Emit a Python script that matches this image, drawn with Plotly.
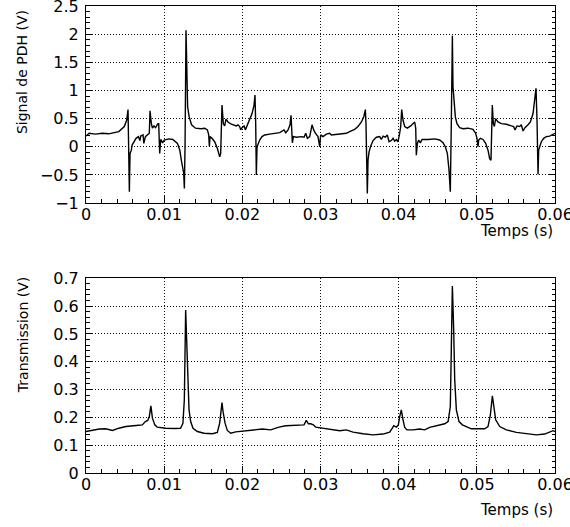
import plotly.graph_objects as go

# --- Top panel: PDH signal (time in s, signal in V) ---
pdh_t = [0.0000, 0.0004, 0.0012, 0.0021, 0.0029, 0.0038, 0.0042, 0.0049, 0.0052,
         0.005377, 0.005463, 0.005548, 0.005633, 0.0058, 0.0059, 0.0064, 0.0067, 0.0069,
         0.0070, 0.0073, 0.0074, 0.0076, 0.0081, 0.008192, 0.008362, 0.0085, 0.0087,
         0.0089, 0.0092, 0.009301, 0.009429, 0.009556, 0.0098, 0.0100, 0.0106, 0.0111,
         0.0117, 0.0120, 0.0122, 0.0125, 0.012584, 0.012669, 0.012797, 0.012925, 0.0130,
         0.0132, 0.0135, 0.0140, 0.0147, 0.01518, 0.01553, 0.01570, 0.01578, 0.01587,
         0.01612, 0.01646, 0.01681, 0.01710, 0.01723, 0.01740, 0.01757, 0.01774, 0.01791,
         0.01817, 0.01860, 0.01924, 0.01945, 0.01966, 0.01979, 0.01996, 0.02022, 0.02039,
         0.02064, 0.02094, 0.02124, 0.02150, 0.02162, 0.02171, 0.02179, 0.02188, 0.02201,
         0.02222, 0.02252, 0.02286, 0.02350, 0.02414, 0.02478, 0.02533, 0.02555, 0.02585,
         0.02610, 0.02623, 0.02636, 0.02640, 0.02653, 0.02691, 0.02755, 0.02789, 0.02811,
         0.02832, 0.02862, 0.02892, 0.02913, 0.02934, 0.02968, 0.02990, 0.03002, 0.03032,
         0.03075, 0.03118, 0.03139, 0.03224, 0.03331, 0.03373, 0.03437, 0.03480, 0.03523,
         0.03553, 0.03574, 0.03582, 0.03591, 0.03599, 0.03608, 0.03621, 0.03642, 0.03672,
         0.03715, 0.03757, 0.03778, 0.03800, 0.03830, 0.03855, 0.03877, 0.03906, 0.03928,
         0.03949, 0.03970, 0.03992, 0.04013, 0.04026, 0.04039, 0.04056, 0.04077, 0.04111,
         0.04154, 0.04184, 0.04205, 0.04218, 0.04226, 0.04239, 0.04256, 0.04277, 0.04299,
         0.04375, 0.04461, 0.04525, 0.04568, 0.04597, 0.04623, 0.04644, 0.04661, 0.04674,
         0.04687, 0.04695, 0.04704, 0.04712, 0.04725, 0.04746, 0.04781, 0.04823, 0.04887,
         0.04951, 0.04985, 0.05002, 0.05015, 0.05024, 0.05045, 0.05079, 0.05113, 0.05143,
         0.05164, 0.05181, 0.05190, 0.05198, 0.05211, 0.05224, 0.05241, 0.05271, 0.05314,
         0.05378, 0.05442, 0.05471, 0.05488, 0.05514, 0.05548, 0.05569, 0.05591, 0.05616,
         0.05655, 0.05685, 0.05719, 0.05744, 0.05757, 0.05770, 0.05778, 0.05783, 0.05791,
         0.05804, 0.05825, 0.05855, 0.05889, 0.05932, 0.05966, 0.06000]
pdh_v = [0.19, 0.24, 0.225, 0.24, 0.23, 0.25, 0.27, 0.36, 0.47,
         0.66, 0.0, -0.80, -0.12, -0.06, 0.03, 0.15, 0.18, 0.11,
         0.19, 0.21, 0.06, 0.18, 0.24, 0.64, 0.41, 0.33, 0.37,
         0.34, 0.41, 0.41, -0.12, 0.13, 0.07, 0.12, 0.14, 0.13,
         0.06, -0.06, -0.24, -0.47, -0.74, 0.0, 2.07, 0.77, 0.71,
         0.53, 0.39, 0.33, 0.32, 0.33, 0.30, 0.21, 0.01, 0.18,
         0.15, 0.09, -0.03, -0.18, -0.12, 0.74, 0.41, 0.37, 0.49,
         0.44, 0.40, 0.37, 0.39, 0.36, 0.30, 0.34, 0.37, 0.30,
         0.39, 0.47, 0.59, 0.74, 0.92, 0.41, -0.50, 0.0, 0.06,
         0.12, 0.18, 0.21, 0.225, 0.24, 0.25, 0.30, 0.25, 0.30,
         0.39, 0.56, 0.18, 0.07, 0.18, 0.17, 0.18, 0.17, 0.24,
         0.15, 0.18, 0.39, 0.30, 0.24, 0.18, 0.0, 0.21, 0.18,
         0.225, 0.24, 0.21, 0.225, 0.24, 0.27, 0.31, 0.36, 0.44,
         0.53, 0.66, 0.41, -0.24, -0.83, -0.24, -0.09, 0.01, 0.11,
         0.17, 0.18, 0.13, 0.19, 0.17, 0.21, 0.09, 0.11, 0.15,
         0.10, 0.13, 0.09, 0.24, 0.36, 0.66, 0.47, 0.36, 0.33,
         0.37, 0.41, 0.44, 0.33, -0.15, 0.06, 0.12, 0.07, 0.13,
         0.13, 0.14, 0.12, 0.07, 0.0, -0.12, -0.41, -0.80, 0.47,
         1.97, 1.07, 0.86, 0.77, 0.53, 0.41, 0.34, 0.32, 0.33,
         0.31, 0.24, 0.15, 0.0, 0.12, 0.15, 0.13, 0.06, -0.06,
         -0.21, -0.24, 0.36, 0.74, 0.41, 0.36, 0.50, 0.44, 0.41,
         0.40, 0.37, 0.36, 0.30, 0.37, 0.36, 0.39, 0.28, 0.34,
         0.39, 0.44, 0.59, 0.83, 1.04, 0.47, -0.24, -0.49, -0.06,
         0.01, 0.09, 0.15, 0.18, 0.19, 0.21, 0.24]

# --- Bottom panel: transmission (time in s, signal in V) ---
tr_t = [0.0000, 0.0008, 0.0017, 0.0025, 0.0034, 0.0042, 0.0051, 0.0064, 0.0072,
        0.0076, 0.0079, 0.0081, 0.0083, 0.0085, 0.0088, 0.0091, 0.0102, 0.0113,
        0.0121, 0.0124, 0.01258, 0.01275, 0.01288, 0.01301, 0.01318, 0.01339, 0.01369,
        0.01425, 0.01510, 0.01617, 0.01680, 0.01710, 0.01727, 0.01740, 0.01753, 0.01779,
        0.01808, 0.01851, 0.01915, 0.02000, 0.02128, 0.02256, 0.02363, 0.02469, 0.02555,
        0.02725, 0.02789, 0.02819, 0.02845, 0.02874, 0.02909, 0.02938, 0.02981,
        0.03075, 0.03160, 0.03246, 0.03331, 0.03416, 0.03544, 0.03672, 0.03800, 0.03885,
        0.03919, 0.03936, 0.03971, 0.03996, 0.04013, 0.04034, 0.04056, 0.04077, 0.04107,
        0.04184, 0.04269, 0.04333, 0.04397, 0.04504, 0.04589, 0.04632, 0.04661, 0.04674,
        0.04687, 0.04704, 0.04717, 0.04738, 0.04772, 0.04815, 0.04866, 0.04930, 0.04994,
        0.05100, 0.05143, 0.05173, 0.05199, 0.05216, 0.05241, 0.05293, 0.05378, 0.05506,
        0.05634, 0.05762, 0.05868, 0.05932, 0.05975, 0.06000]
tr_v = [0.149, 0.153, 0.158, 0.159, 0.153, 0.161, 0.167, 0.171, 0.173,
        0.185, 0.189, 0.203, 0.241, 0.197, 0.173, 0.165, 0.161, 0.160,
        0.161, 0.179, 0.263, 0.586, 0.478, 0.323, 0.227, 0.185, 0.161,
        0.149, 0.143, 0.141, 0.146, 0.179, 0.215, 0.253, 0.221, 0.179,
        0.153, 0.143, 0.148, 0.151, 0.153, 0.158, 0.155, 0.165, 0.170,
        0.173, 0.173, 0.189, 0.177, 0.177, 0.173, 0.165, 0.163,
        0.159, 0.155, 0.152, 0.155, 0.147, 0.141, 0.137, 0.140, 0.147,
        0.161, 0.170, 0.165, 0.173, 0.203, 0.227, 0.191, 0.164, 0.155,
        0.155, 0.158, 0.155, 0.164, 0.170, 0.177, 0.185, 0.239, 0.454,
        0.672, 0.514, 0.335, 0.227, 0.185, 0.173, 0.167, 0.159, 0.159,
        0.159, 0.167, 0.209, 0.277, 0.239, 0.191, 0.167, 0.155, 0.146,
        0.141, 0.137, 0.140, 0.148, 0.152, 0.149]

x_ticks = [0, 0.01, 0.02, 0.03, 0.04, 0.05, 0.06]
x_tick_text = ["0", "0.01", "0.02", "0.03", "0.04", "0.05", "0.06"]

FONT = "DejaVu Sans"
line = dict(color="black", width=1.4)
GRID_DASH = "1px,2px"

fig = go.Figure()
fig.add_trace(go.Scatter(x=pdh_t, y=pdh_v, mode="lines", line=line,
                         xaxis="x", yaxis="y", showlegend=False))
fig.add_trace(go.Scatter(x=tr_t, y=tr_v, mode="lines", line=line,
                         xaxis="x2", yaxis="y2", showlegend=False))

common_x = dict(range=[0, 0.06], tickvals=x_ticks, ticktext=x_tick_text,
                automargin=False, ticklabeloverflow="allow", ticklabelstandoff=-3,
                ticks="inside", ticklen=7, tickcolor="black", tickwidth=1,
                minor=dict(dtick=0.002, ticks="inside", ticklen=4, tickcolor="black",
                           showgrid=False),
                showline=True, linecolor="black", linewidth=1, mirror=True,
                showgrid=True, gridcolor="#111111", griddash=GRID_DASH, gridwidth=1,
                zeroline=False, tickfont=dict(family=FONT, size=16, color="black"))
common_y = dict(automargin=False, ticklabeloverflow="allow",
                ticks="inside", ticklen=6, tickcolor="black", tickwidth=1,
                showline=True, linecolor="black", linewidth=1, mirror="ticks",
                showgrid=True, gridcolor="#111111", griddash=GRID_DASH, gridwidth=1,
                zeroline=False, tickfont=dict(family=FONT, size=16, color="black"),
                ticklabelstandoff=3)

fig.update_layout(
    width=570, height=527,
    margin=dict(l=86, r=15, t=6, b=54, autoexpand=False),
    paper_bgcolor="white", plot_bgcolor="white",
    font=dict(family=FONT, size=15, color="black"),
    xaxis=dict(domain=[0, 1], anchor="y", **common_x),
    yaxis=dict(domain=[0.578, 1.0], anchor="x", range=[-1, 2.5], dtick=0.5,
               minor=dict(dtick=0.1, ticks="inside", ticklen=3.5, tickcolor="black",
                          showgrid=False),
               **common_y),
    xaxis2=dict(domain=[0, 1], anchor="y2", **common_x),
    yaxis2=dict(domain=[0, 0.417], anchor="x2", range=[0, 0.7], dtick=0.1,
                minor=dict(dtick=0.02, ticks="inside", ticklen=3.5, tickcolor="black",
                           showgrid=False),
                **common_y),
    annotations=[
        dict(text="Temps (s)", xref="paper", yref="paper", x=1.0, y=0.518,
             xanchor="right", yanchor="middle", showarrow=False,
             font=dict(family=FONT, size=15)),
        dict(text="Temps (s)", xref="paper", yref="paper", x=1.0, y=-0.079,
             xanchor="right", yanchor="middle", showarrow=False,
             font=dict(family=FONT, size=15)),
        dict(text="Signal de PDH (V)", xref="paper", yref="paper", x=-0.136, y=0.996,
             xanchor="center", yanchor="top", textangle=-90, showarrow=False,
             font=dict(family=FONT, size=14)),
        dict(text="Transmission (V)", xref="paper", yref="paper", x=-0.134, y=0.424,
             xanchor="center", yanchor="top", textangle=-90, showarrow=False,
             font=dict(family=FONT, size=14)),
    ],
)

fig.write_html("out.html",
               config={"displayModeBar": False},
               post_script="document.body.style.margin='0px';"
                           "document.body.style.overflow='hidden';")
